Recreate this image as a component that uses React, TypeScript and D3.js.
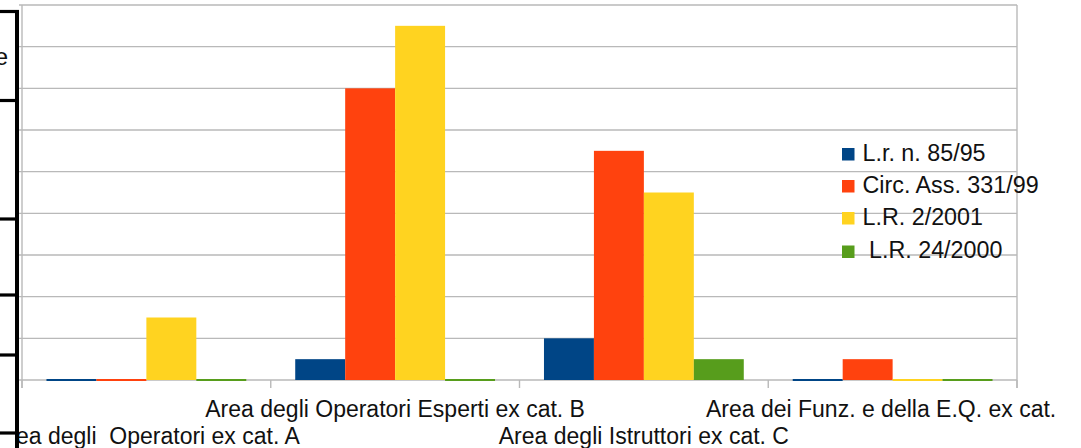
import React from "react";
import * as d3 from "d3";

// Categories (job areas) and the four legislative series
const categories = [
  "Area degli  Operatori ex cat. A",
  "Area degli Operatori Esperti ex cat. B",
  "Area degli Istruttori ex cat. C",
  "Area dei Funz. e della E.Q. ex cat. D",
];
const seriesNames = ["L.r. n. 85/95", "Circ. Ass. 331/99", "L.R. 2/2001", " L.R. 24/2000"];
const seriesColors = ["#004586", "#ff420e", "#ffd320", "#579d1c"];

const lr8595 = [0, 1, 2, 0];
const circ33199 = [0, 14, 11, 1];
const lr22001 = [3, 17, 9, 0];
const lr242000 = [0, 0, 1, 0];
const seriesValues = [lr8595, circ33199, lr22001, lr242000];

const yTicks = [0, 2, 4, 6, 8, 10, 12, 14, 16, 18];

// Row separators of the table sitting at the left edge
const tableRows = [11.5, 100.5, 219, 295, 355, 433];

const W = 1081;
const H = 448;
const plot = { left: 22, right: 1017, top: 5, bottom: 380 };
const FONT = "'Liberation Sans', Arial, sans-serif";
const GRID = "#b9b9b9";

export default function App() {
  const x0 = d3
    .scaleBand<string>()
    .domain(categories)
    .range([plot.left, plot.right])
    .padding(0);
  const x1 = d3
    .scaleBand<number>()
    .domain(d3.range(seriesNames.length))
    .range([0, x0.bandwidth()])
    .paddingInner(0)
    .paddingOuter(0.49);
  const y = d3.scaleLinear().domain([0, 18]).range([plot.bottom, plot.top]);

  const tickXs = [...categories.map((c) => x0(c) as number), plot.right];

  return (
    <svg
      width={W}
      height={H}
      style={{ position: "absolute", left: 0, top: 0, background: "#fff" }}
      fontFamily={FONT}
    >
      <defs>
        <clipPath id="chartClip">
          <rect x={19} y={0} width={1060 - 19} height={H} />
        </clipPath>
      </defs>
      <rect width={W} height={H} fill="#fff" />

      <g clipPath="url(#chartClip)">
        {/* horizontal gridlines */}
        {yTicks.map((t) => (
          <line
            key={"g" + t}
            x1={plot.left - 3}
            x2={plot.right}
            y1={y(t)}
            y2={y(t)}
            stroke={GRID}
            strokeWidth={1.4}
          />
        ))}
        {/* frame: left axis and right edge */}
        <line x1={plot.left} x2={plot.left} y1={plot.top} y2={plot.bottom + 8} stroke={GRID} strokeWidth={1.4} />
        <line x1={plot.right} x2={plot.right} y1={plot.top} y2={plot.bottom + 8} stroke={GRID} strokeWidth={1.4} />
        {/* category ticks */}
        {tickXs.map((tx, i) => (
          <line key={"t" + i} x1={tx} x2={tx} y1={plot.bottom} y2={plot.bottom + 8} stroke={GRID} strokeWidth={1.4} />
        ))}

        {/* bars */}
        {categories.map((c, ci) => (
          <g key={c} transform={`translate(${x0(c)},0)`}>
            {seriesValues.map((vals, si) => {
              const v = vals[ci];
              const h = y(0) - y(v);
              return (
                <rect
                  key={si}
                  x={x1(si)}
                  y={v === 0 ? y(0) - 1 : y(v)}
                  width={x1.bandwidth()}
                  height={Math.max(h, 2)}
                  fill={seriesColors[si]}
                />
              );
            })}
          </g>
        ))}

        {/* category labels, staggered on two rows */}
        {categories.map((c, ci) => (
          <text
            key={"l" + ci}
            x={(x0(c) as number) + x0.bandwidth() / 2}
            y={ci % 2 === 1 ? 417 : 444}
            textAnchor="middle"
            fontSize={23}
            fill="#111"
            style={{ whiteSpace: "pre" }}
          >
            {c}
          </text>
        ))}

        {/* legend */}
        {seriesNames.map((name, si) => {
          const base = [160.5, 192.5, 224.5, 258][si];
          return (
            <g key={"leg" + si}>
              <rect x={842} y={base - 12.5} width={12.5} height={12.5} fill={seriesColors[si]} />
              <text x={862.5} y={base} fontSize={23.3} fill="#111" style={{ whiteSpace: "pre" }}>
                {name}
              </text>
            </g>
          );
        })}
      </g>

      {/* table fragment at the left edge */}
      <rect x={0} y={0} width={17} height={H} fill="#fff" />
      <text x={8} y={65} textAnchor="end" fontSize={24} fill="#111">
        e
      </text>
      {tableRows.map((ry, i) => (
        <line key={"r" + i} x1={0} x2={19} y1={ry} y2={ry} stroke="#000" strokeWidth={3.2} />
      ))}
      <line x1={17} x2={17} y1={10} y2={H} stroke="#000" strokeWidth={4} />
    </svg>
  );
}
